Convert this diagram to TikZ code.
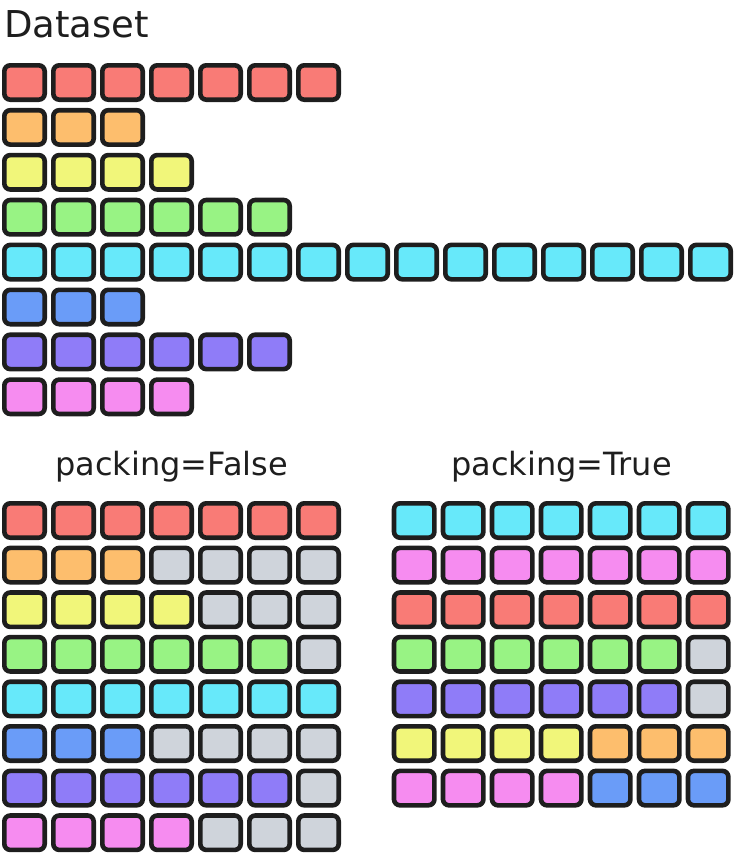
\documentclass[tikz,border=0pt]{standalone}
\usepackage{fontspec}
\setmainfont{DejaVu Sans}
\usepackage{tikz}
\usetikzlibrary{positioning}
\definecolor{ink}{HTML}{1E1E1E}
\definecolor{cred}{HTML}{F97B76}
\definecolor{corange}{HTML}{FDBE6D}
\definecolor{cyellow}{HTML}{F1F67A}
\definecolor{cgreen}{HTML}{98F384}
\definecolor{ccyan}{HTML}{67E9FA}
\definecolor{cblue}{HTML}{6A9CF8}
\definecolor{cpurple}{HTML}{8F7CF8}
\definecolor{cpink}{HTML}{F68CF0}
\definecolor{cgray}{HTML}{CFD4DB}
\tikzstyle{cell} = [rectangle, draw=ink, line width=4.6pt, rounded corners=6pt, minimum width=40.4pt, minimum height=34.4pt, inner sep=0pt]
\tikzstyle{title} = [anchor=base, text=ink, inner sep=0pt]

\begin{document}
\begin{tikzpicture}[x=1pt, y=-1pt]
		\useasboundingbox (0,0) rectangle (735,854);

		\node[title, anchor=base west, font=\fontsize{37}{40}\selectfont] (dataset) at (4,37) {Dataset};

		\foreach \col/\n [count=\r] in {cred/7, corange/3, cyellow/4, cgreen/6, ccyan/15, cblue/3, cpurple/6, cpink/4} {
			\foreach \c in {1,...,\n}
				\node[cell, fill=\col] (d-\r-\c) at ({24.5+49*(\c-1)}, {82.5+44.9*(\r-1)}) {};
		}

		\node[title, font=\fontsize{32}{36}\selectfont] (nopack) at (171.5,475) {packing=False};
		\node[title, font=\fontsize{32}{36}\selectfont] (pack) at (561.5,475) {packing=True};

		\foreach \col/\n [count=\r] in {cred/7, corange/3, cyellow/4, cgreen/6, ccyan/7, cblue/3, cpurple/6, cpink/4} {
			\foreach \c in {1,...,7} {
				\ifnum\c>\n \def\fc{cgray}\else\def\fc{\col}\fi
				\node[cell, fill=\fc] (f-\r-\c) at ({24.5+49*(\c-1)}, {520.5+44.6*(\r-1)}) {};
			}
		}

		\foreach \ca/\n/\cb [count=\r] in {ccyan/7/ccyan, cpink/7/cpink, cred/7/cred, cgreen/6/cgray, cpurple/6/cgray, cyellow/4/corange, cpink/4/cblue} {
			\foreach \c in {1,...,7} {
				\ifnum\c>\n \def\fc{\cb}\else\def\fc{\ca}\fi
				\node[cell, fill=\fc] (t-\r-\c) at ({414.2+49*(\c-1)}, {520.5+44.6*(\r-1)}) {};
			}
		}

	\end{tikzpicture}
\end{document}
